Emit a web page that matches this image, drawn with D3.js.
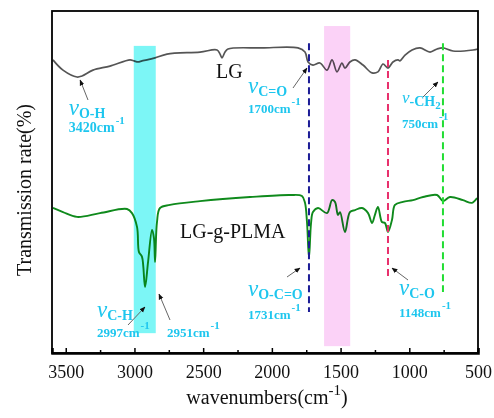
<!DOCTYPE html>
<html>
<head>
<meta charset="utf-8">
<script src="https://cdn.jsdelivr.net/npm/d3@7"></script>
<style>
  body { margin: 0; background: #fff; }
  svg { display: block; font-family: "Liberation Serif", "Times New Roman", serif; }
</style>
</head>
<body>
<svg id="chart" width="494" height="418"></svg>
<script>
// FTIR spectra, [wavenumber, transmission]
const lgData = [
  [3593, 85.7], [3520, 82.7], [3418, 80.7], [3382, 81.0], [3302, 82.7], [3178, 83.9],
  [3032, 85.7], [3003, 85.4], [2974, 85.1], [2945, 85.4], [2909, 85.7], [2850, 86.3],
  [2763, 87.4], [2523, 88.0], [2399, 88.6], [2377, 87.4], [2363, 86.3], [2341, 88.0],
  [2319, 88.9], [2072, 89.2], [1810, 89.2], [1759, 88.0], [1737, 85.1], [1701, 84.2],
  [1650, 84.8], [1599, 82.7], [1562, 85.7], [1526, 82.2], [1490, 84.8], [1468, 83.3],
  [1432, 85.1], [1395, 85.7], [1337, 84.2], [1271, 81.9], [1228, 82.2], [1191, 84.5],
  [1155, 83.3], [1119, 85.1], [1082, 85.7], [1068, 85.4], [1031, 87.1], [980, 88.6],
  [922, 89.2], [849, 88.0], [798, 88.9], [755, 89.2], [682, 88.3], [536, 88.6], [500, 88.9]
];

const plmaData = [
  [3593, 42.4], [3520, 41.2], [3418, 39.8], [3251, 40.9], [3054, 42.1], [3018, 40.9],
  [2981, 36.8], [2967, 29.5], [2945, 28.1], [2923, 19.3], [2901, 26.6], [2872, 36.0],
  [2858, 33.6], [2850, 26.6], [2836, 38.3], [2814, 42.4], [2741, 43.3], [2523, 44.4],
  [2159, 45.6], [1868, 46.2], [1781, 45.9], [1759, 43.9], [1744, 38.0], [1730, 27.8],
  [1715, 38.0], [1701, 41.2], [1664, 42.4], [1599, 40.9], [1562, 44.7], [1541, 44.2],
  [1519, 40.4], [1504, 41.2], [1468, 35.4], [1432, 41.2], [1395, 41.8], [1344, 42.4],
  [1300, 40.9], [1271, 38.0], [1250, 40.4], [1228, 42.7], [1199, 38.3], [1177, 38.0],
  [1155, 35.4], [1126, 38.9], [1104, 43.3], [1046, 44.2], [973, 44.7], [900, 45.6],
  [798, 46.2], [755, 44.4], [704, 45.6], [609, 44.7], [544, 43.9], [507, 45.3]
];

// shaded regions [from, to, top, bottom, colour]
const bands = [
  [3005, 2845, 89.8, 5.8, "#7cf6f6"],
  [1620, 1430, 95.6, 2.0, "#fbd2f7"]
];

// dashed marker lines [wavenumber, top, bottom, colour]
const markers = [
  [1730, 90.6, 12.0, "#1c1c96"],
  [1155, 85.7, 21.6, "#e8306c"],
  [755, 90.6, 17.8, "#22dd33"]
];

const xTicks = [3500, 3000, 2500, 2000, 1500, 1000, 500];
const xMinor = [3250, 2750, 2250, 1750, 1250, 750];

const width = 494, height = 418;
const margin = { top: 11, right: 16, bottom: 65, left: 52 };
const x0 = margin.left, x1 = width - margin.right;
const y0 = margin.top, y1 = height - margin.bottom;

const svg = d3.select("#chart");
const x = d3.scaleLinear().domain([3600, 500]).range([x0, x1]);
const y = d3.scaleLinear().domain([0, 100]).range([y1, y0]);

const cyan = "#1ec6ee";

const line = d3.line()
  .x(d => x(d[0]))
  .y(d => y(d[1]))
  .curve(d3.curveCatmullRom.alpha(0.5));

// spectra
svg.append("path").datum(lgData)
  .attr("d", line).attr("fill", "none")
  .attr("stroke", "#555").attr("stroke-width", 1.7);

svg.append("path").datum(plmaData)
  .attr("d", line).attr("fill", "none")
  .attr("stroke", "#0f8a1c").attr("stroke-width", 1.9);

// bands blended over the curves
svg.selectAll("rect.band").data(bands).enter()
  .append("rect").attr("class", "band")
  .attr("x", d => x(d[0]))
  .attr("width", d => x(d[1]) - x(d[0]))
  .attr("y", d => y(d[2]))
  .attr("height", d => y(d[3]) - y(d[2]))
  .attr("fill", d => d[4])
  .style("mix-blend-mode", "multiply");

svg.selectAll("line.marker").data(markers).enter()
  .append("line").attr("class", "marker")
  .attr("x1", d => x(d[0])).attr("x2", d => x(d[0]))
  .attr("y1", d => y(d[1])).attr("y2", d => y(d[2]))
  .attr("stroke", d => d[3]).attr("stroke-width", 2)
  .attr("stroke-dasharray", "7,4");

// frame
svg.append("rect")
  .attr("x", x0).attr("y", y0)
  .attr("width", x1 - x0).attr("height", y1 - y0)
  .attr("fill", "none").attr("stroke", "#000").attr("stroke-width", 1.8);

// x axis, ticks pointing inward
const axis = svg.append("g").attr("transform", `translate(0,${y1})`)
  .call(d3.axisBottom(x).tickValues(xTicks).tickSize(-5).tickPadding(12).tickFormat(d3.format("d")));
axis.select(".domain").attr("stroke-width", 2.5);
axis.selectAll(".tick line").attr("stroke-width", 1.5);
axis.selectAll("text").attr("font-size", 18).attr("font-family", "Liberation Serif").attr("fill", "#111");

svg.append("g").attr("transform", `translate(0,${y1})`)
  .call(d3.axisBottom(x).tickValues(xMinor).tickSize(-3).tickFormat(""))
  .call(g => g.select(".domain").remove())
  .selectAll(".tick line").attr("stroke-width", 1.5);

// axis titles
const xt = svg.append("text")
  .attr("x", 267).attr("y", 404)
  .attr("text-anchor", "middle").attr("font-size", 20).attr("fill", "#111");
xt.append("tspan").text("wavenumbers(cm");
xt.append("tspan").attr("font-size", 15).attr("dy", -9).text("-1");
xt.append("tspan").attr("dy", 9).text(")");

svg.append("text")
  .attr("transform", "translate(31,190) rotate(-90)")
  .attr("text-anchor", "middle").attr("font-size", 20).attr("fill", "#111")
  .text("Transmission rate(%)");

// series names
svg.append("text").attr("x", 216).attr("y", 78)
  .attr("font-size", 20).attr("fill", "#111").text("LG");
svg.append("text").attr("x", 180).attr("y", 238)
  .attr("font-size", 20).attr("fill", "#111").text("LG-g-PLMA");

// arrows
svg.append("defs").append("marker")
  .attr("id", "head").attr("viewBox", "0 0 10 10")
  .attr("refX", 9).attr("refY", 5)
  .attr("markerWidth", 6).attr("markerHeight", 6)
  .attr("orient", "auto")
  .append("path").attr("d", "M0,1L10,5L0,9Z").attr("fill", "#111");

function arrow(xa, ya, xb, yb) {
  svg.append("line")
    .attr("x1", xa).attr("y1", ya).attr("x2", xb).attr("y2", yb)
    .attr("stroke", "#666").attr("stroke-width", 1)
    .attr("marker-end", "url(#head)");
}

// wavenumber with cm^-1
function wn(px, py, num, size) {
  const n = svg.append("text").attr("x", px).attr("y", py)
    .attr("fill", cyan).attr("font-weight", "bold").attr("font-size", size || 13);
  n.append("tspan").text(num + "cm");
  n.append("tspan").attr("font-size", 11).attr("dy", -8).attr("dx", 1).text("-1");
}

// peak label: italic v with subscript, then wavenumber
function peak(px, py, sub, num, opts) {
  opts = opts || {};
  const t = svg.append("text").attr("x", px).attr("y", py).attr("fill", cyan);
  t.append("tspan").attr("font-style", "italic").attr("font-size", opts.vSize || 23).text("v");
  t.append("tspan").attr("font-size", opts.subSize || 14).attr("font-weight", "bold")
    .attr("dy", 3).text(sub);
  if (opts.sub2) {
    t.append("tspan").attr("font-size", 11).attr("font-weight", "bold").attr("dy", 3).text(opts.sub2);
  }
  wn(px, py + (opts.gap || 18), num, opts.numSize);
}

peak(x(3420) - 8, 115, "O-H", "3420", { numSize: 14, gap: 17 });
arrow(88, 100, x(3410) + 2, 80);

peak(248, 93, "C=O", "1700", { gap: 20 });
arrow(293, 88, x(1730) - 2, 68);

peak(402, 103, "-CH", "750", { vSize: 17, sub2: "2", gap: 25 });
arrow(423, 97, 438, 82);

peak(97, 317, "C-H", "2997", { gap: 20 });
arrow(128, 325, 145, 307);
arrow(170, 320, 159, 294);
wn(167, 337, "2951");

peak(248, 296, "O-C=O", "1731", { gap: 23 });
arrow(287, 277, 300, 268);

peak(399, 295, "C-O", "1148", { gap: 22 });
arrow(408, 280, 392, 268);
</script>
</body>
</html>
